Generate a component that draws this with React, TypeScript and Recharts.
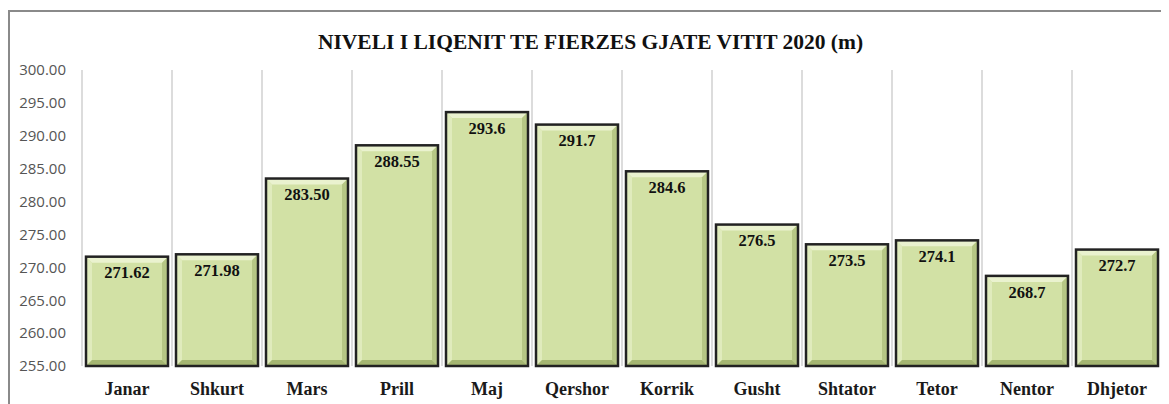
import { BarChart, Bar, XAxis, YAxis, CartesianGrid, LabelList } from 'recharts';

const months = ['Janar', 'Shkurt', 'Mars', 'Prill', 'Maj', 'Qershor', 'Korrik', 'Gusht', 'Shtator', 'Tetor', 'Nentor', 'Dhjetor'];
const levels = [271.62, 271.98, 283.5, 288.55, 293.6, 291.7, 284.6, 276.5, 273.5, 274.1, 268.7, 272.7];
const levelLabels = ['271.62', '271.98', '283.50', '288.55', '293.6', '291.7', '284.6', '276.5', '273.5', '274.1', '268.7', '272.7'];
const yTicks = [255, 260, 265, 270, 275, 280, 285, 290, 295, 300];

const rows = months.map((m, i) => ({ month: m, level: levels[i], label: levelLabels[i] }));

const SERIF = '"Liberation Serif", "DejaVu Serif", serif';

// Excel-style bevelled bar: flat fill, light top/left edge, darker bottom/right edge.
function BevelBar(props: any) {
  const { x, y, width, height } = props;
  if (!width || !height) return null;
  const b = 6;
  const x2 = x + width;
  const y2 = y + height;
  return (
    <g>
      <rect x={x} y={y} width={width} height={height} fill="#d2e1a5" />
      <polygon points={`${x},${y} ${x2},${y} ${x2 - b},${y + b} ${x + b},${y + b}`} fill="#eaf2cf" />
      <polygon points={`${x},${y} ${x + b},${y + b} ${x + b},${y2 - b} ${x},${y2}`} fill="#e0ebbd" />
      <polygon points={`${x2},${y} ${x2},${y2} ${x2 - b},${y2 - b} ${x2 - b},${y + b}`} fill="#b6c785" />
      <polygon points={`${x},${y2} ${x2},${y2} ${x2 - b},${y2 - b} ${x + b},${y2 - b}`} fill="#a5b672" />
      <rect x={x} y={y} width={width} height={height} fill="none" stroke="#222" strokeWidth={2.5} />
    </g>
  );
}

export default function App() {
  const W = 1161;
  const H = 396;
  return (
    <div
      style={{
        position: 'relative',
        width: W,
        height: H,
        marginTop: 2,
        borderTop: '2px solid #8a8a8a',
        borderLeft: '2px solid #8a8a8a',
        boxSizing: 'border-box',
        background: '#fff',
      }}
    >
      <div
        style={{
          position: 'absolute',
          top: 18,
          left: 0,
          width: W,
          textAlign: 'center',
          fontFamily: SERIF,
          fontWeight: 'bold',
          fontSize: 21.5,
          lineHeight: '24px',
          color: '#111',
        }}
      >
        NIVELI I LIQENIT TE FIERZES GJATE VITIT 2020 (m)
      </div>
      <div style={{ position: 'absolute', left: -2, top: -4 }}>
        <BarChart width={W} height={H} data={rows} margin={{ top: 62, right: 7, bottom: 0, left: 0 }} barCategoryGap={4}>
          <CartesianGrid
            horizontal={false}
            stroke="#dcdcdc"
            strokeWidth={2}
            verticalCoordinatesGenerator={({ offset }: any) =>
              months.map((_, i) => offset.left + (i * offset.width) / months.length).concat(offset.left + offset.width)
            }
          />
          <XAxis
            dataKey="month"
            axisLine={false}
            tickLine={false}
            tickSize={0}
            tickMargin={16}
            height={38}
            interval={0}
            tick={{ fontFamily: SERIF, fontWeight: 'bold', fontSize: 18, fill: '#1a1a1a' }}
          />
          <YAxis
            domain={[255, 300]}
            ticks={yTicks}
            interval={0}
            axisLine={false}
            tickLine={false}
            tickSize={0}
            tickMargin={16}
            width={74}
            tickFormatter={(v: number) => v.toFixed(2)}
            tick={{ fontFamily: '"Open Sans", sans-serif', fontSize: 15, fill: '#555' }}
          />
          <Bar dataKey="level" shape={<BevelBar />} isAnimationActive={false}>
            <LabelList
              dataKey="label"
              position="insideTop"
              offset={10}
              style={{ fontFamily: SERIF, fontWeight: 'bold', fontSize: 16.5, fill: '#111' }}
            />
          </Bar>
        </BarChart>
      </div>
    </div>
  );
}
